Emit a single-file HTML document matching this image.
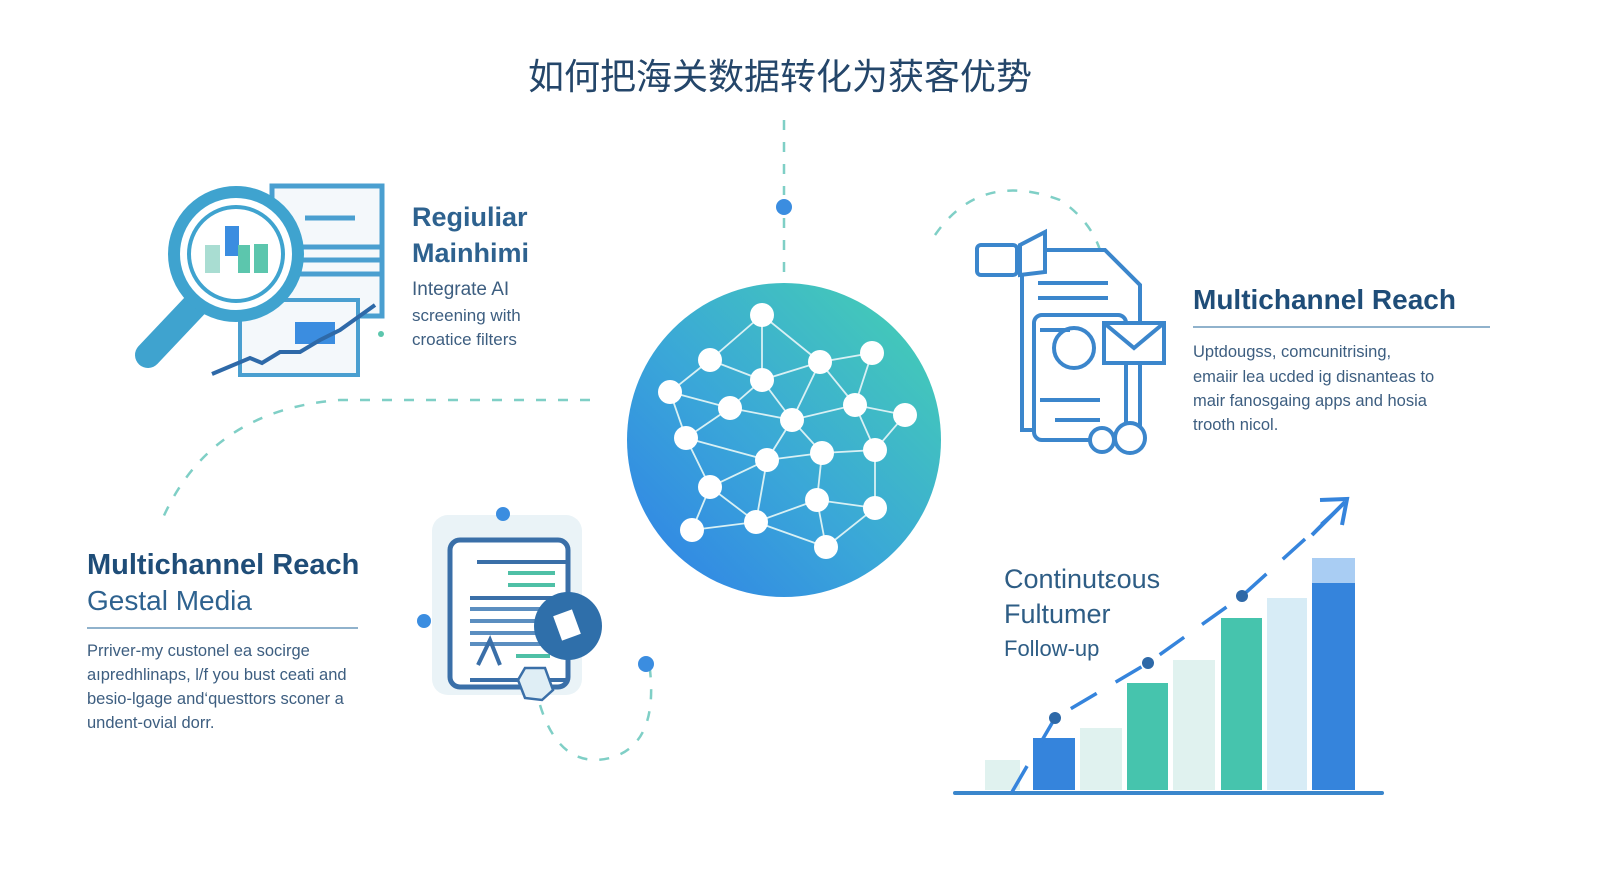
<!DOCTYPE html>
<html><head><meta charset="utf-8"><style>
html,body{margin:0;padding:0;background:#fff;}
svg{display:block;}
text{font-family:"Liberation Sans","Noto Sans CJK SC",sans-serif;}
</style></head><body>
<svg width="1600" height="896" viewBox="0 0 1600 896" xmlns="http://www.w3.org/2000/svg">
<defs>
<linearGradient id="cg" x1="0" y1="1" x2="1" y2="0">
<stop offset="0" stop-color="#2f7fe8"/><stop offset="0.45" stop-color="#3aa7d8"/><stop offset="1" stop-color="#46d2b0"/>
</linearGradient>
</defs>
<rect width="1600" height="896" fill="#fff"/>
<text x="780" y="89" font-size="36" fill="#24466a" text-anchor="middle">如何把海关数据转化为获客优势</text>
<g fill="none" stroke="#7fcfc6" stroke-width="2.5" stroke-dasharray="10 12">
<line x1="784" y1="120" x2="784" y2="195"/>
<line x1="784" y1="218" x2="784" y2="280"/>
<path d="M590 400 L340 400 Q210 410 162 520"/>
<path d="M935 235 Q980 170 1060 200 Q1090 220 1100 250"/>
<path d="M540 705 Q560 770 610 758 Q658 745 650 670"/>
</g>
<circle cx="784" cy="207" r="8" fill="#3b8de0"/>
<circle cx="784" cy="440" r="157" fill="url(#cg)"/>
<g stroke="#d8f0f4" stroke-width="1.8" fill="none">
<polyline points="762,315 710,360 670,392 686,438 710,487 692,530"/>
<polyline points="762,315 762,380 792,420 767,460 756,522 692,530"/>
<polyline points="762,315 820,362 872,353 855,405 905,415 875,450 875,508 826,547 756,522"/>
<polyline points="710,360 762,380 820,362 855,405 792,420 730,408 670,392"/>
<polyline points="730,408 686,438 767,460 822,453 875,450 855,405"/>
<polyline points="822,453 817,500 875,508"/>
<polyline points="767,460 710,487 756,522 817,500 826,547"/>
<polyline points="792,420 822,453"/>
<polyline points="730,408 762,380"/>
<polyline points="820,362 792,420"/>
</g>
<g fill="#fff">
<circle cx="762" cy="315" r="12"/><circle cx="710" cy="360" r="12"/><circle cx="762" cy="380" r="12"/><circle cx="820" cy="362" r="12"/><circle cx="872" cy="353" r="12"/><circle cx="670" cy="392" r="12"/><circle cx="730" cy="408" r="12"/><circle cx="792" cy="420" r="12"/><circle cx="855" cy="405" r="12"/><circle cx="905" cy="415" r="12"/><circle cx="686" cy="438" r="12"/><circle cx="767" cy="460" r="12"/><circle cx="822" cy="453" r="12"/><circle cx="875" cy="450" r="12"/><circle cx="710" cy="487" r="12"/><circle cx="817" cy="500" r="12"/><circle cx="875" cy="508" r="12"/><circle cx="692" cy="530" r="12"/><circle cx="756" cy="522" r="12"/><circle cx="826" cy="547" r="12"/>
</g>
<rect x="272" y="186" width="110" height="130" fill="#f4f8fb" stroke="#4a9fd0" stroke-width="5"/>
<g stroke="#4a9fd0" stroke-width="5"><line x1="305" y1="218" x2="355" y2="218"/><line x1="295" y1="247" x2="380" y2="247"/><line x1="295" y1="260" x2="380" y2="260"/><line x1="295" y1="274" x2="380" y2="274"/></g>
<rect x="240" y="300" width="118" height="75" fill="#f4f8fb" stroke="#4a9fd0" stroke-width="4"/>
<rect x="295" y="322" width="40" height="22" fill="#3b8de0"/>
<polyline points="212,374 250,358 262,363 280,352 300,352 320,340 340,330 375,305" fill="none" stroke="#2e69a8" stroke-width="4"/>
<line x1="148" y1="355" x2="200" y2="300" stroke="#3fa3cf" stroke-width="26" stroke-linecap="round"/>
<circle cx="236" cy="254" r="62" fill="#fff" stroke="#3fa3cf" stroke-width="12"/>
<circle cx="236" cy="254" r="47" fill="none" stroke="#3fa3cf" stroke-width="4"/>
<rect x="205" y="245" width="15" height="28" fill="#a9ddd2"/><rect x="225" y="226" width="14" height="30" fill="#3b8de0"/><rect x="238" y="245" width="12" height="28" fill="#5cc6ad"/><rect x="254" y="244" width="14" height="29" fill="#5cc6ad"/>
<circle cx="381" cy="334" r="3" fill="#5cc6ad"/>
<text x="412" y="226" font-size="27" font-family="Liberation Serif" fill="#2e628f" font-weight="bold">Regiuliar</text>
<text x="412" y="262" font-size="27" font-family="Liberation Serif" fill="#2e628f" font-weight="bold">Mainhimi</text>
<text x="412" y="295" font-size="19" fill="#3d5e80">Integrate AI</text>
<text x="412" y="321" font-size="17" fill="#3d5e80">screening with</text>
<text x="412" y="345" font-size="17" fill="#3d5e80">croatice filters</text>
<g fill="#fff" stroke="#3b86cc" stroke-width="4">
<path d="M1022 250 L1105 250 L1140 285 L1140 430 L1022 430 Z"/>
<rect x="1034" y="315" width="92" height="125" rx="8"/>
<rect x="977" y="245" width="40" height="30" rx="4"/>
<path d="M1020 245 L1045 232 L1045 272 L1020 275 Z"/>
<circle cx="1074" cy="348" r="20"/>
<rect x="1104" y="323" width="60" height="40"/>
<circle cx="1102" cy="440" r="12"/><circle cx="1130" cy="438" r="15"/>
</g>
<polyline points="1104,323 1134,348 1164,323" fill="none" stroke="#3b86cc" stroke-width="4"/>
<g stroke="#3b86cc" stroke-width="4"><line x1="1038" y1="283" x2="1108" y2="283"/><line x1="1038" y1="298" x2="1108" y2="298"/><line x1="1040" y1="330" x2="1070" y2="330"/><line x1="1040" y1="400" x2="1100" y2="400"/><line x1="1055" y1="420" x2="1100" y2="420"/></g>
<text x="1193" y="309" font-size="28" fill="#1f4d78" font-weight="bold">Multichannel Reach</text>
<line x1="1193" y1="327" x2="1490" y2="327" stroke="#6c98bb" stroke-width="1.5"/>
<g font-size="16.5" fill="#3d5e80"><text x="1193" y="357">Uptdougss, comcunitrising,</text><text x="1193" y="382">emaiir lea ucded ig disnanteas to</text><text x="1193" y="406">mair fanosgaing apps and hosia</text><text x="1193" y="430">trooth nicol.</text></g>
<text x="87" y="574" font-size="29" fill="#1f4d78" font-weight="bold">Multichannel Reach</text>
<text x="87" y="610" font-size="28" fill="#2e628f">Gestal Media</text>
<line x1="87" y1="628" x2="358" y2="628" stroke="#6c98bb" stroke-width="1.5"/>
<g font-size="16.5" fill="#3d5e80"><text x="87" y="656">Prriver-my custonel ea socirge</text><text x="87" y="680">aıpredhlinaps, l/f you bust ceati and</text><text x="87" y="704">besio-lgage and‘questtors sconer a</text><text x="87" y="728">undent-ovial dorr.</text></g>
<rect x="432" y="515" width="150" height="180" rx="16" fill="#eaf3f7"/>
<rect x="450" y="540" width="118" height="147" rx="10" fill="#fff" stroke="#3a6fa8" stroke-width="5"/>
<circle cx="503" cy="514" r="7" fill="#3b8de0"/><circle cx="424" cy="621" r="7" fill="#3b8de0"/><circle cx="646" cy="664" r="8" fill="#3b8de0"/>
<g stroke-width="4"><line x1="477" y1="562" x2="568" y2="562" stroke="#3a6fa8"/><line x1="508" y1="573" x2="555" y2="573" stroke="#4fc0a6"/><line x1="508" y1="585" x2="555" y2="585" stroke="#4fc0a6"/><line x1="470" y1="598" x2="568" y2="598" stroke="#3a6fa8"/><line x1="470" y1="609" x2="555" y2="609" stroke="#5b8ec0"/><line x1="470" y1="621" x2="550" y2="621" stroke="#5b8ec0"/><line x1="470" y1="633" x2="550" y2="633" stroke="#5b8ec0"/><line x1="470" y1="644" x2="550" y2="644" stroke="#5b8ec0"/><line x1="516" y1="656" x2="550" y2="656" stroke="#4fc0a6"/><line x1="470" y1="680" x2="568" y2="680" stroke="#3a6fa8"/></g>
<path d="M478 665 L490 640 L500 665" fill="none" stroke="#3a6fa8" stroke-width="4"/>
<circle cx="568" cy="626" r="34" fill="#2f6faa"/>
<rect x="557" y="612" width="20" height="26" fill="#fff" transform="rotate(-20 567 625)"/>
<path d="M518 680 L525 668 L545 668 L553 690 L542 700 L525 698 Z" fill="#dfeef5" stroke="#3a6fa8" stroke-width="2.5"/>
<rect x="985" y="760" width="35" height="30" fill="#e0f2ef"/>
<rect x="1033" y="738" width="42" height="52" fill="#3584dc"/>
<rect x="1080" y="728" width="42" height="62" fill="#e0f2ef"/>
<rect x="1127" y="683" width="41" height="107" fill="#46c4ad"/>
<rect x="1173" y="660" width="42" height="130" fill="#e0f2ef"/>
<rect x="1221" y="618" width="41" height="172" fill="#46c4ad"/>
<rect x="1267" y="598" width="40" height="192" fill="#d7ecf6"/>
<rect x="1312" y="558" width="43" height="232" fill="#3584dc"/>
<rect x="1312" y="558" width="43" height="25" fill="#a9cdf3"/>
<line x1="955" y1="793" x2="1382" y2="793" stroke="#3a86cc" stroke-width="4" stroke-linecap="round"/>
<g stroke="#3584dc" stroke-width="3.5" stroke-dasharray="30 22" fill="none"><polyline points="1012,792 1055,718 1148,663 1242,596 1335,512"/></g>
<circle cx="1055" cy="718" r="6" fill="#2e69a8"/><circle cx="1148" cy="663" r="6" fill="#2e69a8"/><circle cx="1242" cy="596" r="6" fill="#2e69a8"/>
<polyline points="1320,500 1347,499 1342,525" fill="none" stroke="#3584dc" stroke-width="4"/>
<line x1="1312" y1="535" x2="1345" y2="502" stroke="#3584dc" stroke-width="4"/>
<text x="1004" y="588" font-size="27" fill="#2e5d85">Continutεous</text>
<text x="1004" y="623" font-size="27" fill="#2e5d85">Fultumer</text>
<text x="1004" y="656" font-size="22" fill="#2e5d85">Follow-up</text>
</svg>
</body></html>
